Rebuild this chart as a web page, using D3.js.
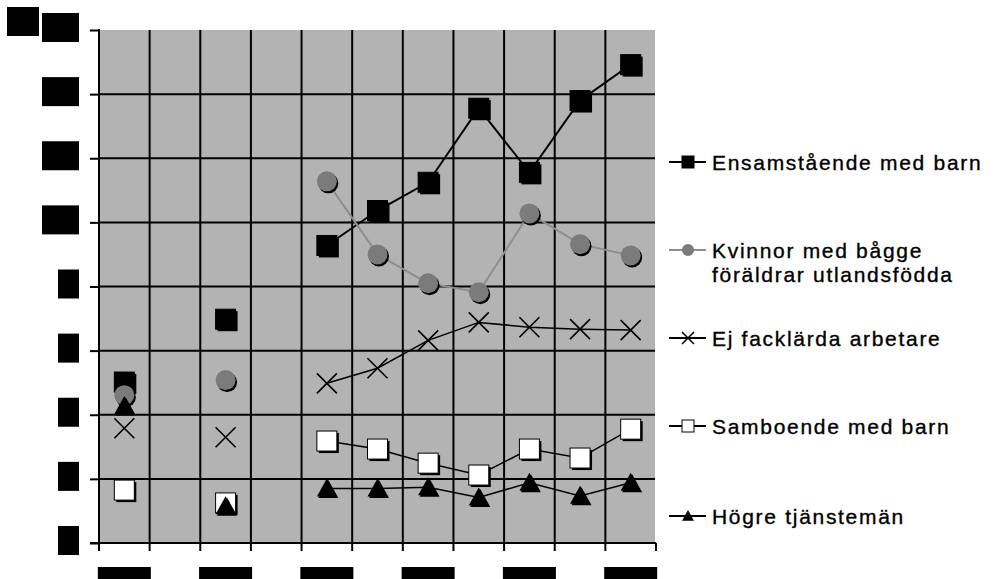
<!DOCTYPE html>
<html>
<head>
<meta charset="utf-8">
<script src="https://cdn.jsdelivr.net/npm/d3@7"></script>
<style>
  html, body { margin: 0; padding: 0; background: #ffffff; }
  svg { display: block; }
</style>
</head>
<body>
<svg id="chart" width="1001" height="579"></svg>
<script>
// Years on the category axis (every other one is labelled)
const categories = ["1990", "1991", "1992", "1993", "1994", "1995", "1996", "1997", "1998", "1999", "2000"];
const labelledYears = ["1990", "1992", "1994", "1996", "1998", "2000"];
const yTicks = [0, 2, 4, 6, 8, 10, 12, 14, 16];
const yUnit = "%";

// Series values, null where no observation exists
const ensamstaende = [5.02, null, 6.98, null, 9.28, 10.37, 11.25, 13.56, 11.56, 13.8, 14.92];
const kvinnorUtlandsfodda = [4.61, null, 5.08, null, 11.28, 9.0, 8.1, 7.82, 10.28, 9.32, 8.97];
const ejFacklarda = [3.58, null, 3.3, null, 4.98, 5.45, 6.32, 6.88, 6.73, 6.67, 6.64];
const samboende = [1.65, null, 1.25, null, 3.18, 2.93, 2.49, 2.12, 2.93, 2.65, 3.55];
const hogreTjansteman = [4.27, null, 1.15, null, 1.7, 1.7, 1.74, 1.42, 1.88, 1.47, 1.88];

const seriesNames = [
  ["Ensamstående med barn"],
  ["Kvinnor med bågge", "föräldrar utlandsfödda"],
  ["Ej facklärda arbetare"],
  ["Samboende med barn"],
  ["Högre tjänstemän"]
];

const series = [
  { name: seriesNames[0], values: ensamstaende, marker: "square", fill: "#000", line: "#000", lw: 2 },
  { name: seriesNames[1], values: kvinnorUtlandsfodda, marker: "circle", fill: "#7b7b7b", line: "#8e8e8e", lw: 2 },
  { name: seriesNames[2], values: ejFacklarda, marker: "x", fill: "none", line: "#000", lw: 1.5 },
  { name: seriesNames[3], values: samboende, marker: "square", fill: "#fff", line: "#000", lw: 1.5 },
  { name: seriesNames[4], values: hogreTjansteman, marker: "triangle", fill: "#000", line: "#000", lw: 1.5 }
];

const svg = d3.select("#chart");
const plot = { left: 99, right: 656, top: 30, bottom: 543 };

const x = d3.scaleBand().domain(categories).range([plot.left, plot.right]).padding(0);
const y = d3.scaleLinear().domain([0, 16]).range([plot.bottom, plot.top]);
const cx = c => x(c) + x.bandwidth() / 2;

// Plot background
svg.append("rect")
  .attr("x", plot.left).attr("y", plot.top)
  .attr("width", plot.right - plot.left - 1).attr("height", plot.bottom - plot.top)
  .attr("fill", "#b3b3b3");

// Horizontal gridlines
svg.append("g").selectAll("line")
  .data(yTicks.filter(v => v > 0 && v < 16))
  .join("line")
  .attr("x1", plot.left).attr("x2", plot.right - 1)
  .attr("y1", d => y(d)).attr("y2", d => y(d))
  .attr("stroke", "#000").attr("stroke-width", 2);

// Vertical gridlines at category boundaries
svg.append("g").selectAll("line")
  .data(categories.slice(1))
  .join("line")
  .attr("x1", d => x(d)).attr("x2", d => x(d))
  .attr("y1", plot.top).attr("y2", plot.bottom)
  .attr("stroke", "#000").attr("stroke-width", 2);

// Y axis with ticks
const yAxis = svg.append("g")
  .attr("transform", `translate(${plot.left},0)`)
  .call(d3.axisLeft(y).tickValues(yTicks).tickSize(9).tickSizeOuter(0).tickFormat(""));
yAxis.select(".domain").attr("stroke", "#000").attr("stroke-width", 2)
  .attr("d", `M0,${plot.top - 1}V${plot.bottom + 2}`);
yAxis.selectAll(".tick line").attr("stroke", "#000").attr("stroke-width", 2);

// X axis with ticks at category boundaries
svg.append("line")
  .attr("x1", plot.left - 9).attr("x2", plot.right)
  .attr("y1", plot.bottom).attr("y2", plot.bottom)
  .attr("stroke", "#000").attr("stroke-width", 2);
const xTickPos = categories.map(c => x(c)).concat([x.range()[1]]);
svg.append("g").selectAll("line")
  .data(xTickPos)
  .join("line")
  .attr("x1", d => d).attr("x2", d => d)
  .attr("y1", plot.bottom).attr("y2", plot.bottom + 8)
  .attr("stroke", "#000").attr("stroke-width", 2);

// Tick labels (shown as solid blocks)
const labelFont = "'Liberation Sans', Arial, sans-serif";
const yLab = svg.append("g");
yTicks.forEach(v => {
  const t = String(v);
  const w = 5 + 16 * t.length;
  const g = yLab.append("g");
  g.append("rect").attr("x", 79 - w).attr("y", y(v) - 17).attr("width", w).attr("height", 29).attr("fill", "#000");
  g.append("text").attr("x", 77).attr("y", y(v) + 7).attr("text-anchor", "end")
    .attr("font-family", labelFont).attr("font-size", 28).attr("fill", "#000").text(t);
});
{
  const g = yLab.append("g");
  g.append("rect").attr("x", 7).attr("y", y(16) - 23).attr("width", 32).attr("height", 29).attr("fill", "#000");
  g.append("text").attr("x", 23).attr("y", y(16) + 1).attr("text-anchor", "middle")
    .attr("font-family", labelFont).attr("font-size", 28).attr("fill", "#000").text(yUnit);
}
const xLab = svg.append("g");
labelledYears.forEach(c => {
  xLab.append("rect").attr("x", cx(c) - 26.5).attr("y", 567).attr("width", 53).attr("height", 20).attr("fill", "#000");
  xLab.append("text").attr("x", cx(c)).attr("y", 577).attr("text-anchor", "middle")
    .attr("font-family", labelFont).attr("font-size", 11).attr("fill", "#000").text(c);
});

// Marker drawing
function drawMarker(g, type, fill, size, shadow) {
  const h = size / 2;
  if (type === "square") {
    if (shadow) g.append("rect").attr("x", -h + 2).attr("y", -h + 2).attr("width", size).attr("height", size).attr("fill", "#000");
    g.append("rect").attr("x", -h).attr("y", -h).attr("width", size).attr("height", size)
      .attr("fill", fill).attr("stroke", "#000").attr("stroke-width", 1);
  } else if (type === "circle") {
    if (shadow) g.append("circle").attr("cx", 1.5).attr("cy", 2).attr("r", h).attr("fill", "#000");
    g.append("circle").attr("r", h).attr("fill", fill);
  } else if (type === "triangle") {
    const tri = `M0,${-h}L${h},${h * 0.8}L${-h},${h * 0.8}Z`;
    if (shadow) g.append("path").attr("d", tri).attr("transform", "translate(1.5,1.5)").attr("fill", "#000");
    g.append("path").attr("d", tri).attr("fill", fill);
  } else if (type === "x") {
    g.append("path").attr("d", `M${-h},${-h}L${h},${h}M${h},${-h}L${-h},${h}`)
      .attr("stroke", "#000").attr("stroke-width", 1.6).attr("fill", "none");
  }
}

// Series lines and markers
const line = d3.line()
  .defined(d => d.v !== null)
  .x(d => cx(d.c))
  .y(d => y(d.v));

const seriesLayer = svg.append("g");
series.forEach(s => {
  const pts = categories.map((c, i) => ({ c, v: s.values[i] }));
  const g = seriesLayer.append("g");
  g.append("path").datum(pts).attr("d", line)
    .attr("fill", "none").attr("stroke", s.line).attr("stroke-width", s.lw);
  pts.filter(p => p.v !== null).forEach(p => {
    const mg = g.append("g").attr("transform", `translate(${cx(p.c)},${y(p.v)})`);
    drawMarker(mg, s.marker, s.fill, 20, true);
  });
});

// Legend
const legendY = [162, 250, 338, 426, 516];
const legend = svg.append("g").attr("font-family", labelFont).attr("font-size", 21)
  .attr("letter-spacing", "1.7px").attr("fill", "#000")
  .attr("stroke", "#000").attr("stroke-width", 0.35);
series.forEach((s, i) => {
  const ly = legendY[i];
  legend.append("line").attr("x1", 669).attr("x2", 706).attr("y1", ly).attr("y2", ly)
    .attr("stroke", s.line).attr("stroke-width", 2);
  const mg = legend.append("g").attr("transform", `translate(688,${ly})`).attr("stroke", "none");
  drawMarker(mg, s.marker, s.fill, 12, false);
  s.name.forEach((t, j) => {
    legend.append("text").attr("x", 712).attr("y", ly + 7.5 + j * 24).text(t);
  });
});
</script>
</body>
</html>
